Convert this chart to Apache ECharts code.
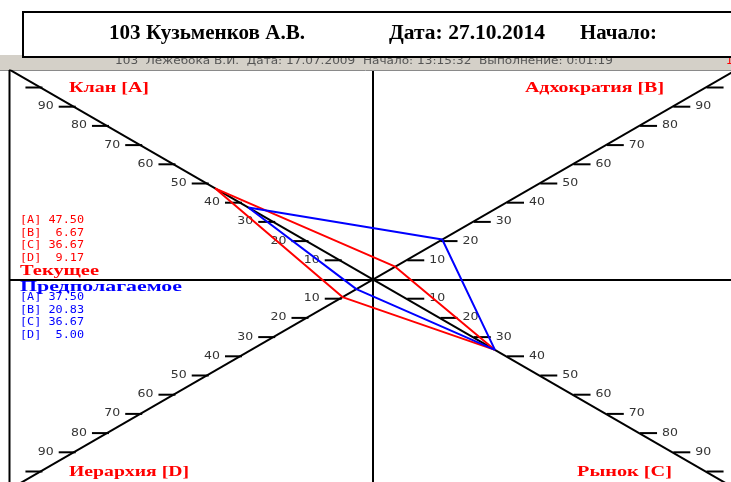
<!DOCTYPE html>
<html><head><meta charset="utf-8">
<script src="https://cdn.jsdelivr.net/npm/echarts@6/dist/echarts.min.js"></script>
<style>html,body{margin:0;padding:0;background:#fff}#c{width:731px;height:482px}</style>
</head><body><div id="c"></div>
<script>
// ---------- data ----------
const headerParts = ['103 Кузьменков А.В.', 'Дата: 27.10.2014', 'Начало:'];
const subHeader = '103  Лежебока В.И.  Дата: 17.07.2009  Начало: 13:15:32  Выполнение: 0:01:19';
const axisNames = ['Клан [А]', 'Адхократия [В]', 'Рынок [С]', 'Иерархия [D]'];
const axisKeys = ['A', 'B', 'C', 'D'];
const currentValues = [47.50, 6.67, 36.67, 9.17];
const expectedValues = [37.50, 20.83, 36.67, 5.00];
const currentTitle = 'Текущее';
const expectedTitle = 'Предполагаемое';
const tickValues = [10, 20, 30, 40, 50, 60, 70, 80, 90, 100];
const tickLabels = ['10', '20', '30', '40', '50', '60', '70', '80', '90', ''];

// ---------- layout ----------
const W = 731, H = 482;
const CX = 373, CY = 279.5, S = 3.84;
const gridL = 10, gridT = 70.5;
const C30 = Math.cos(Math.PI / 6), S30 = 0.5;
const dirs = [[-C30, S30], [C30, S30], [C30, -S30], [-C30, -S30]];
function pt(i, v) { return [dirs[i][0] * v, dirs[i][1] * v]; }
const RED = '#ff0000', BLUE = '#0000ff';

const mctx = document.createElement('canvas').getContext('2d');
function fit(text, font, w) { mctx.font = font; return w / mctx.measureText(text).width; }

function txt(text, x, y, font, fill, width, align) {
  const sx = width ? fit(text, font, width) : 1;
  return { type: 'text', x: x, y: y, scaleX: sx, z: 10, silent: true,
    style: { text: text, font: font, fill: fill, align: align || 'left', verticalAlign: 'middle' } };
}

const fontHead = 'bold 20px "Liberation Serif"';
const fontCat = 'bold 14px "Liberation Serif"';
const fontLeg = '11px "DejaVu Sans Mono"';
const fmt = v => v.toFixed(2).padStart(5, ' ');

const graphics = [
  { type: 'rect', shape: { x: 0, y: 55, width: W, height: 15 }, style: { fill: '#d4d0c8' }, z: 1, silent: true },
  { type: 'line', shape: { x1: 0, y1: 70.5, x2: W, y2: 70.5 }, style: { stroke: '#8a8a8a', lineWidth: 1 }, z: 1, silent: true },
  txt(subHeader, 115, 61.5, '11px "DejaVu Sans"', '#555', 498),
  { type: 'text', x: 726, y: 61, z: 10, silent: true, style: { text: '1', font: '11px "DejaVu Sans"', fill: RED, verticalAlign: 'middle' } },
  { type: 'rect', shape: { x: 23, y: 12, width: 730, height: 45 }, style: { fill: '#fff', stroke: '#000', lineWidth: 2 }, z: 20, silent: true },
  Object.assign(txt(headerParts[0], 109, 34, fontHead, '#000', 196), { z: 21 }),
  Object.assign(txt(headerParts[1], 389, 34, fontHead, '#000', 156), { z: 21 }),
  Object.assign(txt(headerParts[2], 580, 34, fontHead, '#000', 77), { z: 21 }),
  { type: 'line', shape: { x1: 9.5, y1: 70, x2: 9.5, y2: H }, style: { stroke: '#000', lineWidth: 2 }, z: 10, silent: true },
  txt(axisNames[0], 69, 88, fontCat, RED, 80),
  txt(axisNames[1], 525, 88, fontCat, RED, 139),
  txt(axisNames[2], 577, 472, fontCat, RED, 95),
  txt(axisNames[3], 69, 472, fontCat, RED, 120),
  txt(currentTitle, 20, 271, fontCat, RED, 79),
  txt(expectedTitle, 20, 287, fontCat, BLUE, 162)
];
axisKeys.forEach((k, i) => {
  graphics.push(txt('[' + k + '] ' + fmt(currentValues[i]), 20, 220.5 + i * 12.4, fontLeg, RED, 64));
  graphics.push(txt('[' + k + '] ' + fmt(expectedValues[i]), 20, 297.5 + i * 12.5, fontLeg, BLUE, 64));
});

const tickData = [];
for (let i = 0; i < 4; i++) tickValues.forEach(v => tickData.push([i, v]));

function polygon(vals) { return [0, 1, 2, 3, 0].map(i => pt(i, vals[i])); }

const axisCommon = {
  type: 'value', axisTick: { show: false }, axisLabel: { show: false }, splitLine: { show: false },
  axisLine: { show: true, onZero: true, lineStyle: { color: '#000', width: 2 } }
};

const chart = echarts.init(document.getElementById('c'), null, { renderer: 'canvas' });
chart.setOption({
  animation: false,
  backgroundColor: '#fff',
  grid: { left: gridL, top: gridT, right: 0, bottom: 0, containLabel: false },
  xAxis: Object.assign({}, axisCommon, { min: -(CX - gridL) / S, max: (W - CX) / S }),
  yAxis: Object.assign({}, axisCommon, { min: -(H - CY) / S, max: (CY - gridT) / S }),
  graphic: { elements: graphics },
  series: [
    { type: 'line', data: [pt(0, 130), pt(2, 130)], symbol: 'none', silent: true, clip: true,
      lineStyle: { color: '#000', width: 2 }, z: 3 },
    { type: 'line', data: [pt(3, 130), pt(1, 130)], symbol: 'none', silent: true, clip: true,
      lineStyle: { color: '#000', width: 2 }, z: 3 },
    { type: 'custom', data: tickData, silent: true, clip: false, z: 4,
      renderItem: function (params, api) {
        const i = api.value(0), v = api.value(1);
        const p = api.coord(pt(i, v));
        const left = (i === 0 || i === 3);
        const x0 = left ? p[0] - 15 : p[0] + 1, x1 = left ? p[0] + 2 : p[0] + 18;
        const label = tickLabels[tickValues.indexOf(v)];
        return { type: 'group', children: [
          { type: 'line', shape: { x1: x0, y1: p[1], x2: x1, y2: p[1] }, style: { stroke: '#000', lineWidth: 2 } },
          { type: 'text', x: left ? p[0] - 20 : p[0] + 23, y: p[1], scaleX: 1.25,
            style: { text: label, font: '10px "DejaVu Sans"', fill: '#333', align: left ? 'right' : 'left', verticalAlign: 'middle' } }
        ] };
      } },
    { type: 'line', name: currentTitle, data: polygon(currentValues), symbol: 'none', silent: true,
      lineStyle: { color: RED, width: 2 }, z: 5 },
    { type: 'line', name: expectedTitle, data: polygon(expectedValues), symbol: 'none', silent: true,
      lineStyle: { color: BLUE, width: 2 }, z: 6 }
  ]
});
</script></body></html>
